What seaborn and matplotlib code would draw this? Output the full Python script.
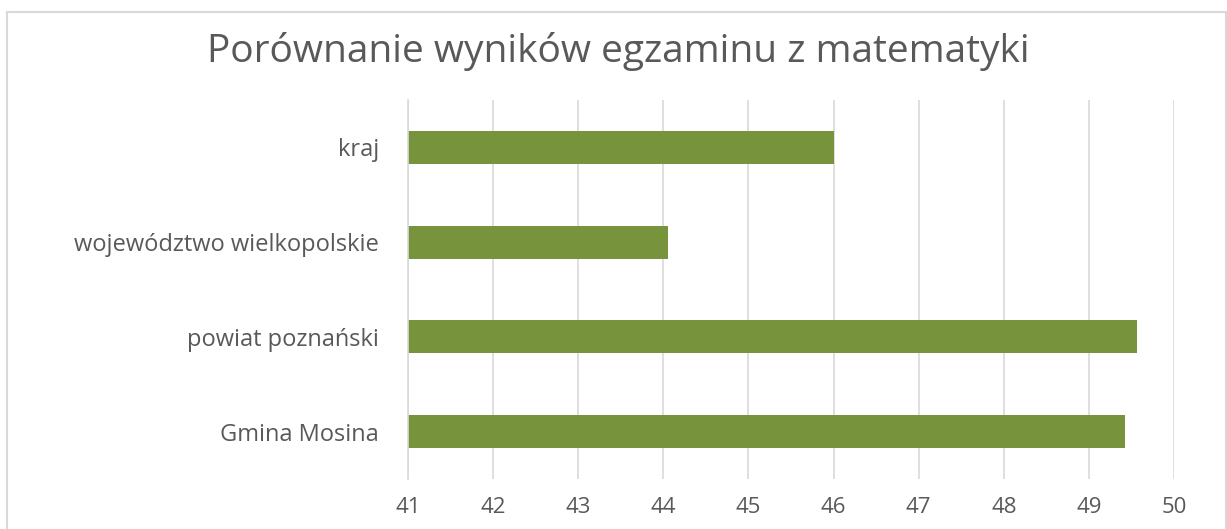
#!/usr/bin/env python3

import matplotlib
matplotlib.use('Agg')
import matplotlib.pyplot as plt
import seaborn as sns
import pandas as pd
from matplotlib.patches import Rectangle

# values
categories = ['kraj', 'województwo wielkopolskie', 'powiat poznański', 'Gmina Mosina']
scores = [46.0, 44.05, 49.57, 49.42]
x_ticks = [41, 42, 43, 44, 45, 46, 47, 48, 49, 50]

TITLE = 'Porównanie wyników egzaminu z matematyki'
BAR_COLOR = '#77933c'
TEXT_COLOR = '#595959'
GRID_COLOR = '#d9d9d9'

sns.set_style('white')
plt.rcParams['font.family'] = ['Open Sans', 'DejaVu Sans']

df = pd.DataFrame({'obszar': categories, 'wynik': scores})

fig = plt.figure(figsize=(12.27, 5.29), dpi=100)
ax = fig.add_axes([0.3325, 0.0945, 0.6243, 0.7165])

sns.barplot(data=df, y='obszar', x='wynik', orient='h', color=BAR_COLOR,
            saturation=1, width=0.35, ax=ax)
# bars start at 41 (axis origin), not at zero
for patch, v in zip(ax.patches, scores):
    patch.set_x(41)
    patch.set_width(v - 41)
    patch.set_edgecolor('none')

ax.set_xlim(41, 50)
ax.set_xticks(x_ticks)
ax.set_ylim(3.5, -0.5)
ax.set_xlabel('')
ax.set_ylabel('')

ax.grid(True, axis='x', color=GRID_COLOR, linewidth=1.2)
ax.set_axisbelow(True)
for side in ['top', 'right', 'bottom']:
    ax.spines[side].set_visible(False)
ax.spines['left'].set_color(GRID_COLOR)
ax.spines['left'].set_linewidth(1.2)

ax.tick_params(axis='both', length=0, colors=TEXT_COLOR)
ax.tick_params(axis='y', pad=21, labelsize=17)
ax.tick_params(axis='x', pad=13, labelsize=16)

fig.text(0.504, 0.902, TITLE, ha='center', va='center',
         fontsize=28, color=TEXT_COLOR)

# chart area outline (bottom edge falls outside the picture)
fig.patches.append(Rectangle((7 / 1227, -0.05), (1226 - 7) / 1227, 1.05 - 11.5 / 529,
                             transform=fig.transFigure, fill=False,
                             edgecolor=GRID_COLOR, linewidth=1.5))

fig.savefig('out.png', dpi=100)
